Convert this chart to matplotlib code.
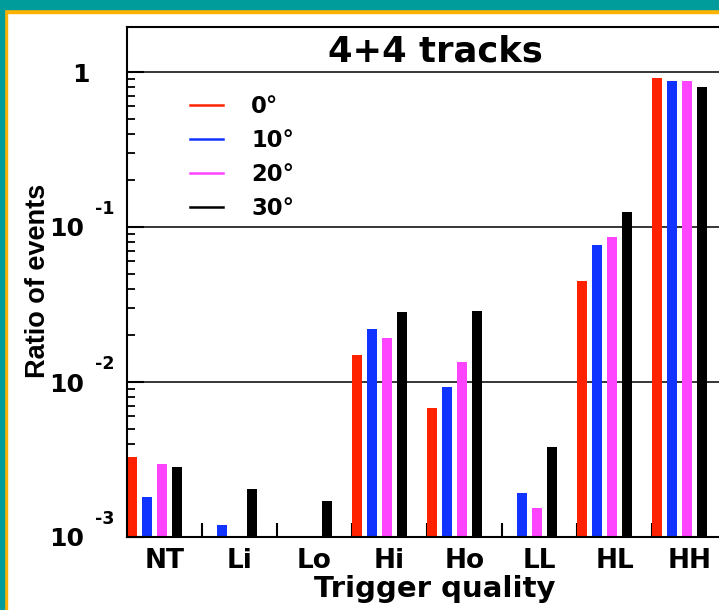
import numpy as np
import matplotlib
matplotlib.use("Agg")
import matplotlib.pyplot as plt
from matplotlib.lines import Line2D
from matplotlib.patches import Rectangle
from matplotlib.ticker import LogLocator, NullFormatter, FixedLocator
import matplotlib.transforms as mtransforms

# data
categories = ["NT", "Li", "Lo", "Hi", "Ho", "LL", "HL", "HH"]
angles = ["0°", "10°", "20°", "30°"]
ratio_0deg = [0.00328, np.nan, np.nan, 0.0149, 0.0068, np.nan, 0.0449, 0.914]
ratio_10deg = [0.00181, 0.00119, np.nan, 0.0220, 0.0093, 0.00192, 0.0766, 0.875]
ratio_20deg = [0.00296, np.nan, np.nan, 0.0192, 0.0135, 0.00154, 0.0862, 0.870]
ratio_30deg = [0.00283, 0.00204, 0.00171, 0.0283, 0.0287, 0.00381, 0.125, 0.800]
series = [ratio_0deg, ratio_10deg, ratio_20deg, ratio_30deg]
colors = ["#ff2200", "#1133ff", "#ff44ff", "black"]
decades = [1e-3, 1e-2, 1e-1, 1]

W, H = 719, 610
fig = plt.figure(figsize=(W / 100, H / 100), dpi=100)
fig.patch.set_facecolor("white")

# frame around the slide
teal, orange = "#009b9b", "#ffb300"
fig.patches.append(Rectangle((4 / W, 0), 3 / W, 1 - 9 / H, transform=fig.transFigure, color=orange))
fig.patches.append(Rectangle((4 / W, 1 - 13 / H), 1, 4 / H, transform=fig.transFigure, color=orange))
fig.patches.append(Rectangle((0, 1 - 9 / H), 1, 9 / H, transform=fig.transFigure, color=teal))
fig.patches.append(Rectangle((0, 0), 4 / W, 1, transform=fig.transFigure, color=teal))

ax = fig.add_axes([127 / W, 73 / H, 600 / W, 510 / H])
x = np.arange(len(categories))
bw = 0.133
for i, (vals, c) in enumerate(zip(series, colors)):
    ax.bar(x + 0.2 * i, vals, width=bw, align="edge", color=c, bottom=0, zorder=2)

ax.set_yscale("log")
ax.set_xlim(0, len(categories))
ax.set_ylim(1e-3, 10 ** (510 / 155 - 3))

for s in ["left", "bottom", "top", "right"]:
    ax.spines[s].set_linewidth(1.5)
ax.yaxis.grid(True, which="major", color="black", lw=1.1, zorder=1)

# y ticks
ax.yaxis.set_major_locator(FixedLocator(decades))
ax.yaxis.set_minor_locator(LogLocator(base=10, subs=np.arange(2, 10)))
ax.yaxis.set_major_formatter(NullFormatter())
ax.yaxis.set_minor_formatter(NullFormatter())
ax.tick_params(axis="y", which="major", direction="in", length=12, width=1.5)
ax.tick_params(axis="y", which="minor", direction="in", length=6, width=1.3)

# x ticks: separators at bin edges, labels at bin centres
ax.set_xticks(x + 0.5)
ax.set_xticklabels(categories, fontsize=19, fontweight="bold")
ax.set_xticks(x[1:], minor=True)
ax.tick_params(axis="x", which="major", length=0, pad=8)
ax.tick_params(axis="x", which="minor", direction="in", length=10, width=1.5)

# ROOT style y labels
ytr = ax.get_yaxis_transform()
exp_tr = mtransforms.offset_copy(ytr, fig=fig, y=20, units="dots")
for d in decades:
    if d == 1:
        ax.text((90 - 127) / 600, d, "1", transform=ytr, ha="right", va="center_baseline",
                fontsize=18, fontweight="bold")
    else:
        ax.text((84 - 127) / 600, d, "10", transform=ytr, ha="right", va="center_baseline",
                fontsize=18, fontweight="bold")
        ax.text((95 - 127) / 600, d, str(int(np.log10(d))), transform=exp_tr, ha="left",
                va="center_baseline", fontsize=12.5, fontweight="bold")

fig.text(435 / W, 1 - 62 / H, "4+4 tracks", ha="center", va="baseline", fontsize=25.5, fontweight="bold")
fig.text(435 / W, 1 - 597 / H, "Trigger quality", ha="center", va="baseline", fontsize=21, fontweight="bold")
fig.text(45 / W, 1 - 281 / H, "Ratio of events", rotation=90, rotation_mode="anchor",
         ha="center", va="baseline", fontsize=19.5, fontweight="bold",
         family="Liberation Sans")

handles = [Line2D([], [], color=c, lw=1.8) for c in colors]
leg = ax.legend(handles, angles, loc="upper left", bbox_to_anchor=(190 / W, 1 - 95 / H),
                bbox_transform=fig.transFigure, frameon=False, borderpad=0, borderaxespad=0,
                handlelength=1.45, handletextpad=1.25, labelspacing=0.48,
                prop={"size": 16.3, "weight": "bold"})

fig.savefig("out.png", dpi=100, facecolor="white")
